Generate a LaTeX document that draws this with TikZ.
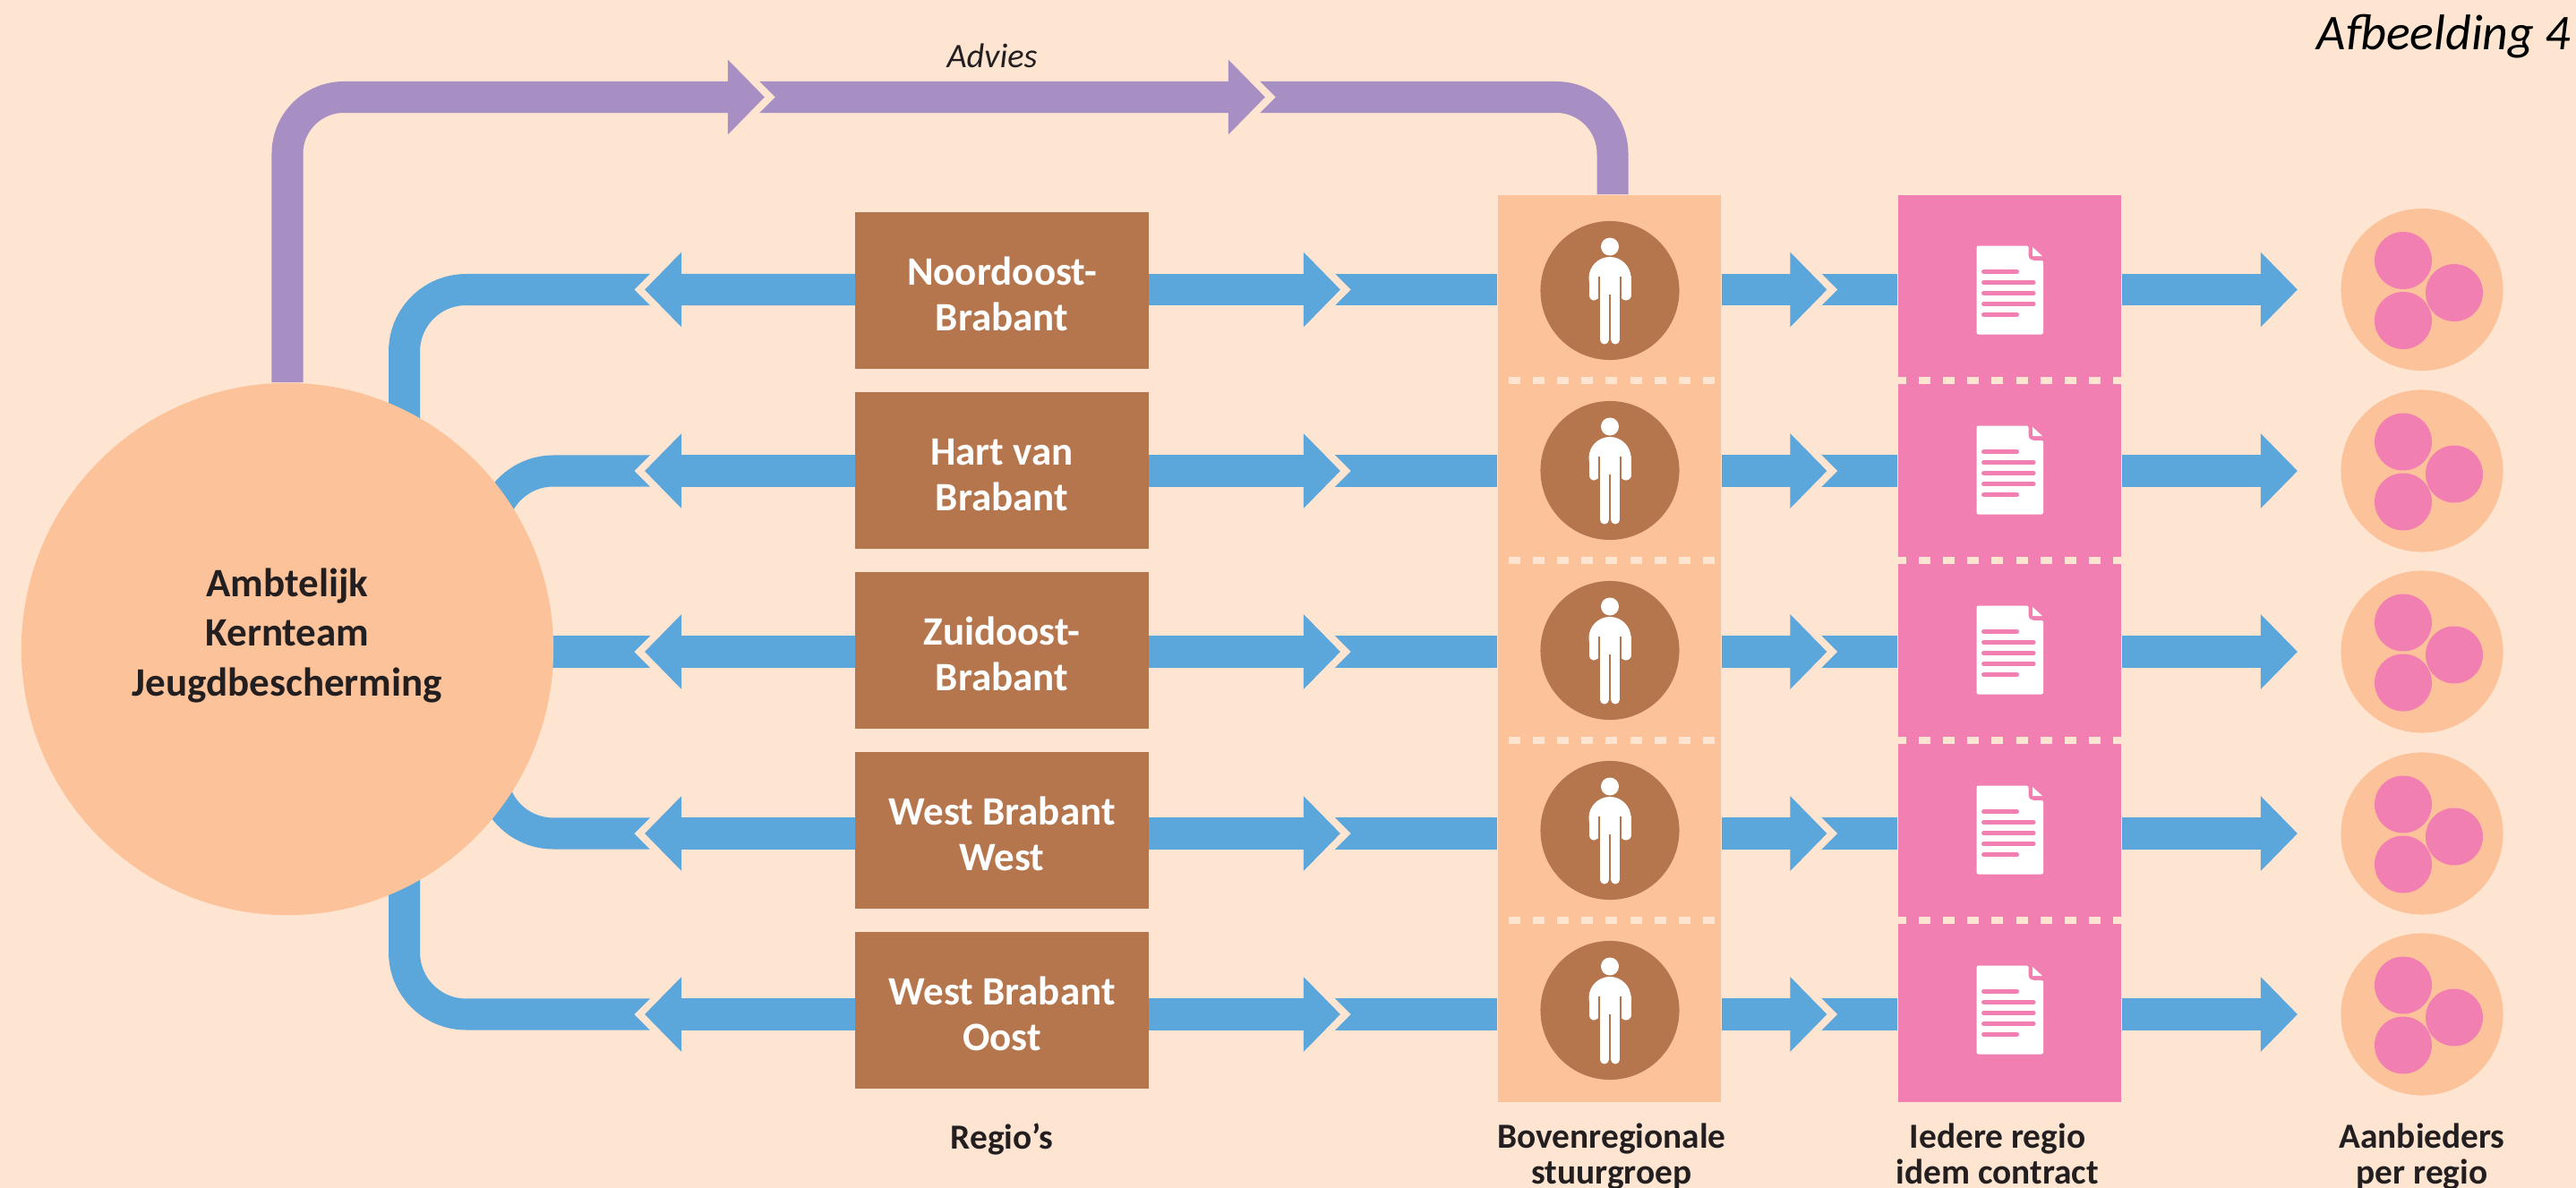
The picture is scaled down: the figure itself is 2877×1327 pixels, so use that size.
\documentclass[tikz,border=0pt]{standalone}
\usepackage{fontspec}
\setmainfont{Carlito}
\usetikzlibrary{arrows.meta,backgrounds}
\definecolor{paper}{HTML}{FEE5D2}
\definecolor{peach}{HTML}{FCC39B}
\definecolor{bruin}{HTML}{B5764D}
\definecolor{flowblue}{HTML}{5BA6DB}
\definecolor{flowpurple}{HTML}{A78FC4}
\definecolor{roze}{HTML}{F27FB2}
\definecolor{ink}{HTML}{231F20}
\newcommand{\lift}{\rule{0pt}{11.2pt}}
\tikzset{
  flow/.style={line width=0.35cm},
  head/.style={-{Triangle[length=0.41cm,width=0.81cm]}},
  regio/.style={fill=bruin,text=white,minimum width=3.27cm,minimum height=1.75cm,align=center,inner sep=0pt,font=\bfseries\fontsize{12.8}{14.6}\selectfont},
  band/.style={minimum width=2.49cm,minimum height=10.13cm,inner sep=0pt},
  caption/.style={align=center,text=ink,inner sep=0pt,font=\bfseries\fontsize{11.2}{11.4}\selectfont},
  split/.style={draw=paper,line width=0.08cm,dash pattern=on 0.13cm off 0.141cm},
  gap/.pic={\fill[paper] (-30,-18.5)--(-7,-18.5)--(11.5,0)--(-7,18.5)--(-30,18.5)--cycle;},
  person/.pic={
    \fill[white] (0,-49) circle (10);
    \fill[white] (0,-14) circle (23.5);
    \fill[white] (-12,-20) rectangle (12,4);
    \draw[white,line width=0.115cm,line cap=round] (-17.75,-14)--(-17.75,5.25) (17.75,-14)--(17.75,5.25);
    \draw[white,line width=0.1cm,line cap=round] (-6.2,0)--(-6.2,55) (6.2,0)--(6.2,55);
    \draw[bruin,line width=0.012cm] (-12,-16)--(-12,8) (12,-16)--(12,8) (0,4)--(0,60);
  },
  document/.pic={
    \fill[white,rounded corners=0.02cm] (-37,-48.5)--(21,-48.5)--(21,-40) .. controls (21,-34) and (24,-32) .. (29,-32)--(37.5,-32)--(37.5,50.5)--(-37,50.5)--cycle;
    \fill[white] (25.5,-47)--(36.5,-37)--(25.5,-37)--cycle;
    \draw[roze,line width=0.05cm,line cap=round] (-29,-19.5)--(8,-19.5) (-29,-7.5)--(26.5,-7.5) (-29,4.5)--(26.5,4.5) (-29,16.5)--(26.5,16.5) (-29,28.5)--(8,28.5);
  },
  aanbieder/.pic={
    \fill[roze] (-21,-32.5) circle (32);
    \fill[roze] (36,3.5) circle (32);
    \fill[roze] (-21,34.5) circle (32);
  }
}
\begin{document}
\begin{tikzpicture}[x=0.01cm,y=-0.01cm,line join=miter]
\useasboundingbox (0,0) rectangle (2877,1327);
% main nodes
\node[circle,fill=peach,minimum size=5.94cm,inner sep=0pt,align=center,text=ink,font=\bfseries\fontsize{12.8}{15.8}\selectfont] (kern) at (321,725) {Ambtelijk\\Kernteam\\Jeugdbescherming\rule[-10.8pt]{0pt}{10pt}};
\node[band,fill=peach] (stuur) at (1797.5,724.5) {};
\node[band,fill=roze] (contract) at (2244.5,724.5) {};
\foreach \i/\yr/\yb/\txt in {1/323.5/324.5/{\lift Noordoost-\\Brabant},2/526/525.5/{\lift Hart van\\Brabant},3/728/726.5/{\lift Zuidoost-\\Brabant},4/931/927.5/{\lift West Brabant\\West},5/1133/1128.5/{\lift West Brabant\\Oost}}{
  \coordinate (row\i) at (0,\yr);
  \node[regio] (reg\i) at (1119,\yb) {\txt};
  \node[circle,fill=bruin,minimum size=1.55cm,inner sep=0pt] (pers\i) at (1798,\yb) {};
  \pic at (pers\i) {person};
  \pic at (2244.5,\yb-1.5) {document};
  \node[circle,fill=peach,minimum size=1.81cm,inner sep=0pt] (aanb\i) at (2705,\yr) {};
  \pic at (aanb\i) {aanbieder};
}
% dashes on the two bands
\foreach \y in {425,626,827,1028}
  \draw[split] (1685,\y) -- (1915,\y);
\begin{scope}
\clip (contract.south west) rectangle (contract.north east);
\foreach \y in {425,626,827,1028}
  \draw[split] (2116,\y) -- (2369,\y);
\end{scope}
\node[inner sep=0pt,anchor=base,font=\itshape\fontsize{10.9}{13}\selectfont,text=ink] (advies) at (1108,75) {Advies};
\node[inner sep=0pt,anchor=base east,font=\itshape\fontsize{15.9}{19}\selectfont,text=black] (afb) at (2872,55) {Afbeelding 4};
\node[caption,anchor=north] (capa) at (1119,1254) {Regio’s};
\node[caption,anchor=north] (capb) at (1800,1254) {Bovenregionale\\stuurgroep};
\node[caption,anchor=north] (capc) at (2231,1254) {Iedere regio\\idem contract};
\node[caption,anchor=north] (capd) at (2705,1254) {Aanbieders\\per regio};
% connectors
\begin{scope}[on background layer]
\fill[paper] (0,0) rectangle (2877,1327);
\coordinate (up) at ([xshift=0.035cm]stuur.north);
\coordinate (pa) at (854,108.5);
\coordinate (pb) at (1413,108.5);
\draw[flow,flowpurple,rounded corners=0.63cm] (kern.north) -- (kern.north |- pa) -- (up |- pa) -- (up);
\pic at (pa) {gap};
\pic at (pb) {gap};
\draw[flow,flowpurple,head] ([xshift=-1cm]pa) -- (pa);
\draw[flow,flowpurple,head] ([xshift=-1cm]pb) -- (pb);
\foreach \i/\a in {1/64,2/40,4/-40,5/-64}
  \draw[flow,flowblue,rounded corners=0.69cm] (reg\i.west |- row\i) -- (kern.\a |- row\i) -- (kern.\a |- kern.center);
\draw[flow,flowblue] (reg3.west |- row3) -- (kern.center |- row3);
\foreach \i in {1,...,5}{
  \coordinate (ta\i) at (720,0 |- row\i);
  \coordinate (tb\i) at (1497,0 |- row\i);
  \coordinate (tc\i) at (2040.5,0 |- row\i);
  \coordinate (td\i) at (2566,0 |- row\i);
  \pic[rotate=180] at (ta\i) {gap};
  \draw[flow,flowblue,head] (reg\i.west |- row\i) -- (ta\i);
  \draw[flow,flowblue] (reg\i.east |- row\i) -- (stuur.west |- row\i);
  \pic at (tb\i) {gap};
  \draw[flow,flowblue,head] (reg\i.east |- row\i) -- (tb\i);
  \draw[flow,flowblue] (stuur.east |- row\i) -- (contract.west |- row\i);
  \pic at (tc\i) {gap};
  \draw[flow,flowblue,head] (stuur.east |- row\i) -- (tc\i);
  \draw[flow,flowblue,head] (contract.east |- row\i) -- (td\i);
}
\end{scope}
\end{tikzpicture}
\end{document}
